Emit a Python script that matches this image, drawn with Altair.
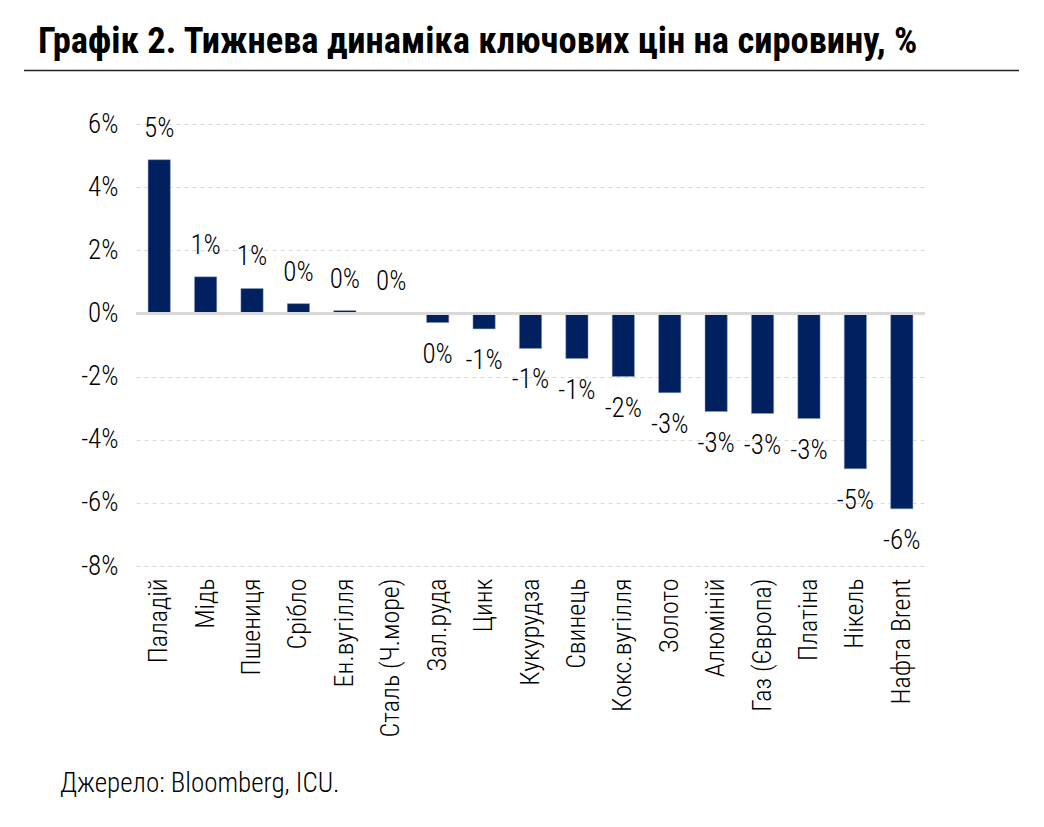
import altair as alt
import pandas as pd

categories = ["Паладій", "Мідь", "Пшениця", "Срібло", "Ен.вугілля", "Сталь (Ч.море)",
              "Зал.руда", "Цинк", "Кукурудза", "Свинець", "Кокс.вугілля", "Золото",
              "Алюміній", "Газ (Європа)", "Платіна", "Нікель", "Нафта Brent"]
values = [4.87, 1.16, 0.79, 0.31, 0.09, 0.0, -0.29, -0.49, -1.11, -1.43, -2.0, -2.51,
          -3.11, -3.17, -3.33, -4.92, -6.19]
labels = ["5%", "1%", "1%", "0%", "0%", "0%", "0%", "-1%", "-1%", "-1%", "-2%", "-3%",
          "-3%", "-3%", "-3%", "-5%", "-6%"]
y_ticks = [-8, -6, -4, -2, 0, 2, 4, 6]

df = pd.DataFrame({"cat": categories, "val": values, "lab": labels})

FONT = "Roboto Condensed, Noto Sans Condensed, DejaVu Sans Condensed, sans-serif"
W, H = 789, 442

x = alt.X("cat:N", sort=categories, title=None,
          scale=alt.Scale(paddingInner=0.52, paddingOuter=0.26),
          axis=alt.Axis(labelAngle=-90, labelFontSize=26, labelFont=FONT, labelFontWeight=300,
                        labelColor="#000000", ticks=False, domain=False, labelPadding=12,
                        labelLimit=300))
y = alt.Y("val:Q", title=None,
          scale=alt.Scale(domain=[-8, 6], nice=False, zero=False),
          axis=alt.Axis(values=y_ticks, labelExpr="datum.value + '%'", labelFontSize=27,
                        labelFont=FONT, labelFontWeight=300, labelColor="#000000", ticks=False,
                        domain=False, labelPadding=18, grid=True, gridColor="#d9d9d9",
                        gridDash=[4, 4], gridWidth=1))

base = alt.Chart(df)

bars = base.mark_bar(color="#002060", stroke="#8ea0c4", strokeWidth=0.5).encode(x=x, y=y)

zero = alt.Chart(pd.DataFrame({"z": [0]})).mark_rule(color="#d9d9d9", strokeWidth=3).encode(
    y=alt.Y("z:Q", scale=alt.Scale(domain=[-8, 6], nice=False, zero=False)))

pos_text = base.transform_filter("datum.val >= 0").mark_text(
    font=FONT, fontSize=27, fontWeight=300, dy=-31, color="#000000").encode(
    x=alt.X("cat:N", sort=categories), y="val:Q", text="lab:N")
neg_text = base.transform_filter("datum.val < 0").mark_text(
    font=FONT, fontSize=27, fontWeight=300, dy=32, color="#000000").encode(
    x=alt.X("cat:N", sort=categories), y="val:Q", text="lab:N")

title_text = alt.Chart(pd.DataFrame({"t": ["Графік 2. Тижнева динаміка ключових цін на сировину, %"]})).mark_text(
    font=FONT, fontSize=36.5, fontWeight="bold", align="left", baseline="alphabetic", color="#000000").encode(
    x=alt.value(-98), y=alt.value(-71), text="t:N")

title_rule = alt.Chart(pd.DataFrame({"a": [0]})).mark_rule(color="#222222", strokeWidth=1.5).encode(
    x=alt.value(-112), x2=alt.value(883), y=alt.value(-53.5))

source_text = alt.Chart(pd.DataFrame({"t": ["Джерело: Bloomberg, ICU."]})).mark_text(
    font=FONT, fontSize=27, fontWeight=300, align="left", baseline="alphabetic", color="#000000").encode(
    x=alt.value(-76), y=alt.value(668), text="t:N")

chart = alt.layer(bars, zero, pos_text, neg_text, title_text, title_rule, source_text).properties(
    width=W, height=H,
    autosize=alt.AutoSizeParams(type="none"),
    padding={"left": 136, "top": 124, "right": 119, "bottom": 261},
).configure(background="#ffffff").configure_view(strokeWidth=0, stroke="transparent")

chart.save("out.html", embed_options={"renderer": "svg", "actions": False})
